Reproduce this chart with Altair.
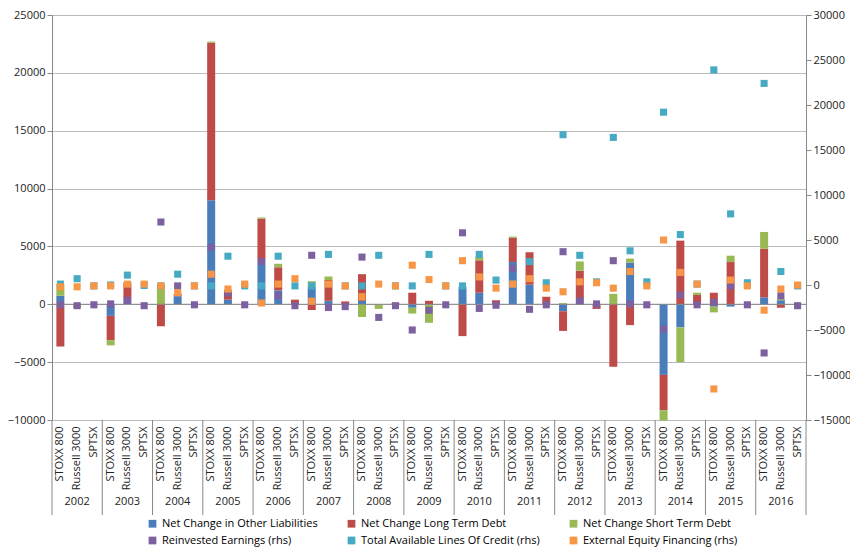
import pandas as pd
import altair as alt

years = [str(y) for y in range(2002, 2017)]
indices = ["STOXX 800", "Russell 3000", "SPTSX"]

# left axis, stacked bars (one value per year/index, in order)
other_liab = [750, 0, 0, -1000, 300, 0, 0, 700, 0, 9000, 400, 0, 3700, 1200, 0,
              1500, 300, 0, 300, 0, 0, -300, 0, 0, 1500, 1000, 0, 3650, 1700, 0,
              -600, 300, 0, 0, 3600, 0, -6100, -2000, 0, -200, -200, 0, 600, 350, 0]
long_debt = [-3650, 0, 0, -2100, 1600, 0, -1900, 200, 0, 13600, 700, 0, 3700, 2000, 400,
             -500, 1800, 250, 2300, 0, 100, 1000, 300, 0, -2750, 2800, 350, 2100, 2800, 650,
             -1700, 2600, -400, -5400, -1800, 0, -3050, 5500, 800, 1000, 3650, 0, 4200, -300, 0]
short_debt = [1000, -300, 0, -450, 0, 0, 1700, 0, 0, 100, 100, 0, 100, 300, 0,
              500, 300, 0, -1100, -400, 0, -500, -1600, 0, 0, 300, 0, 100, 0, 0,
              100, 800, 0, 900, 350, 0, -900, -3000, 200, -500, 550, 0, 1450, 100, 0]

# right axis, points
reinvested = [-2200, -2300, -2200, -2100, -1700, -2300, 7000, -100, -2200, 4200, -900, -2200,
              2600, -1200, -2300, 3300, -2500, -2400, 3100, -3600, -2300, -5000, -2800, -2200,
              5800, -2600, -2250, 1850, -2700, -2200, 3700, -1750, -2100, 2700, -2100, -2200,
              -4900, -1100, -2200, -1950, -100, -2200, -7550, -1200, -2300]
lines_credit = [100, 700, -100, 0, 1100, -50, -100, 1200, -100, -100, 3200, -100,
                -100, 3200, -100, -100, 3400, -100, -100, 3300, -100, -100, 3400, -100,
                -100, 3400, 550, 100, 2600, 250, 16700, 3300, 350, 16400, 3800, 350,
                19200, 5600, 100, 23900, 7900, 250, 22400, 1500, -100]
equity = [-200, -200, -100, -100, 100, 100, -100, -850, -100, 1200, -450, 100,
          -2000, 100, 700, -1800, 100, -100, -1300, 100, -100, 2200, 600, -100,
          2700, 900, -350, 100, 700, -350, -750, 350, 250, -350, 1500, -100,
          5000, 1400, 100, -11550, 550, -100, -2800, -450, 0]

bar_names = ["Net Change in Other Liabilities", "Net Change Long Term Debt", "Net Change Short Term Debt"]
pt_names = ["Reinvested Earnings (rhs)", "Total Available Lines Of Credit (rhs)", "External Equity Financing (rhs)"]
bar_colors = ["#4a7ebb", "#be4b48", "#98b954"]
pt_colors = ["#7d60a0", "#46aac5", "#f79646"]

cats = [f"{y} {i}" for y in years for i in indices]

bars = pd.DataFrame([
    {"cat": c, "series": n, "order": k, "value": v}
    for k, (n, vals) in enumerate(zip(bar_names, [other_liab, long_debt, short_debt]))
    for c, v in zip(cats, vals)
])
pts = pd.DataFrame([
    {"cat": c, "series": n, "value": v}
    for n, vals in zip(pt_names, [reinvested, lines_credit, equity])
    for c, v in zip(cats, vals)
])
yr = pd.DataFrame({"mid": [f"{y} Russell 3000" for y in years],
                   "first": [f"{y} STOXX 800" for y in years], "year": years})

W, H = 754, 405
band = W / len(cats)
font = "Open Sans"

xscale = alt.Scale(domain=cats, paddingInner=0, paddingOuter=0)
xenc = alt.X("cat:N", scale=xscale,
             axis=alt.Axis(title=None, labelAngle=-90, labelExpr="substring(datum.label, 5)",
                           labelFontSize=11, labelFont=font, labelColor="#222",
                           domain=False, ticks=False, labelPadding=6))

# legend fills column by column with 2 rows: interleave bar / point series
leg_dom, leg_rng = [], []
for a, b, ca, cb in zip(bar_names, pt_names, bar_colors, pt_colors):
    leg_dom += [a, b]
    leg_rng += [ca, cb]
cscale = alt.Scale(domain=leg_dom, range=leg_rng)
legend = alt.Legend(title=None, orient="none", legendX=95, legendY=503, columns=3,
                    symbolType="square", symbolSize=60, labelFontSize=11, labelFont=font,
                    columnPadding=28, rowPadding=5, labelLimit=300)

bar_layer = alt.Chart(bars).mark_bar(size=8).encode(
    x=xenc,
    y=alt.Y("value:Q", stack="zero", title=None,
            scale=alt.Scale(domain=[-10000, 25000], nice=False),
            axis=alt.Axis(values=list(range(-10000, 25001, 5000)), format="d", gridColor="#bbb",
                          labelFontSize=11, labelFont=font, labelColor="#222",
                          domainColor="#888", tickColor="#888")),
    color=alt.Color("series:N", scale=cscale, legend=legend),
    order=alt.Order("order:Q"),
)

pt_layer = alt.Chart(pts).mark_square(size=50, opacity=1).encode(
    x=alt.X("cat:N", scale=xscale),
    y=alt.Y("value:Q", title=None, scale=alt.Scale(domain=[-15000, 30000], nice=False),
            axis=alt.Axis(orient="right", values=list(range(-15000, 30001, 5000)), format="d",
                          grid=False, labelFontSize=11, labelFont=font, labelColor="#222",
                          domainColor="#888", tickColor="#888")),
    color=alt.Color("series:N", scale=cscale, legend=legend),
)

year_text = alt.Chart(yr).mark_text(fontSize=11, font=font, color="#222").encode(
    x=alt.X("mid:N", scale=xscale), y=alt.value(H + 82), text="year:N")
seps = alt.Chart(yr).mark_rule(color="#888", xOffset=-band / 2).encode(
    x=alt.X("first:N", scale=xscale), y=alt.value(H), y2=alt.value(H + 95))
end_sep = alt.Chart(yr.tail(1)).mark_rule(color="#888", xOffset=band * 2.5).encode(
    x=alt.X("first:N", scale=xscale), y=alt.value(H), y2=alt.value(H + 95))
zero = alt.Chart(yr.head(1)).mark_rule(color="#888").encode(
    x=alt.value(0), x2=alt.value(W), y=alt.datum(0))

left = alt.layer(bar_layer, zero)
chart = alt.layer(left, pt_layer, year_text, seps, end_sep).resolve_scale(
    y="independent", color="shared"
).properties(
    width=W, height=H, autosize=alt.AutoSizeParams(type="none"),
    padding={"left": 44, "top": 7, "right": 44, "bottom": 129},
).configure_view(stroke=None)

chart.save("out.html", embed_options={"renderer": "svg", "actions": False})
